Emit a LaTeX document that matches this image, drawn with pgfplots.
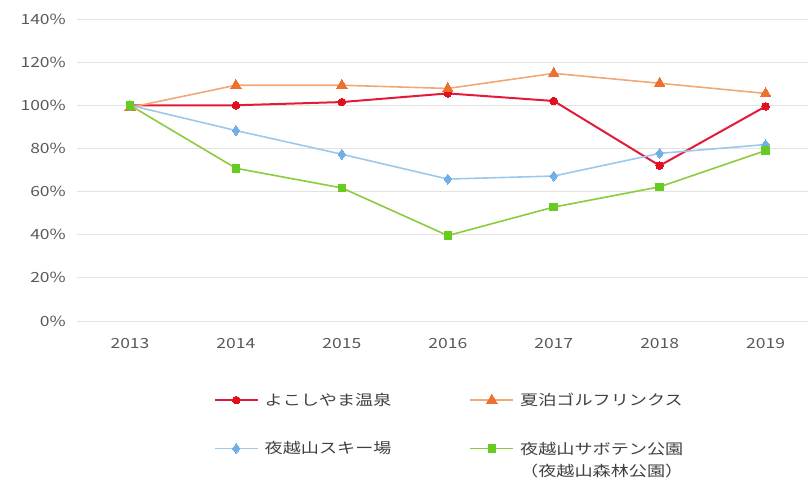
\documentclass[border=0pt]{standalone}
\usepackage{pgfplots}
\pgfplotsset{compat=1.18}
\usepackage{fontspec}
\setmainfont{Noto Sans CJK JP}[FakeStretch=1.25]
\definecolor{tickc}{HTML}{595959}
\definecolor{gridc}{HTML}{E3E3E3}
\definecolor{redl}{HTML}{E31B3A}
\definecolor{redm}{HTML}{E0101F}
\definecolor{orl}{HTML}{F2A874}
\definecolor{orm}{HTML}{ED7031}
\definecolor{bll}{HTML}{9CC8EC}
\definecolor{blm}{HTML}{6FAEE6}
\definecolor{grl}{HTML}{8CCB3E}
\definecolor{grm}{HTML}{66CC22}
\begin{document}
\begin{tikzpicture}
\path[use as bounding box] (-77pt,-158pt) rectangle (731pt,321pt);
\begin{axis}[
  scale only axis, width=731pt, height=302pt,
  xmin=-0.5, xmax=6.4, ymin=0, ymax=140,
  xtick={0,1,2,3,4,5,6},
  xticklabels={2013,2014,2015,2016,2017,2018,2019},
  ytick={0,20,40,60,80,100,120,140},
  yticklabel={\pgfmathprintnumber{\tick}\%},
  /pgf/number format/assume math mode=true,
  ymajorgrids, grid style={draw=gridc, line width=0.8pt},
  separate axis lines,
  axis x line*=bottom, axis y line*=left,
  y axis line style={draw=none},
  x axis line style={draw=gridc, line width=0.8pt, -},
  major tick length=0pt,
  tick label style={font=\fontsize{14}{16}\selectfont, text=tickc, inner sep=0pt},
  yticklabel style={xshift=-11pt},
  xticklabel style={yshift=-17pt},
  legend columns=2,
  legend cell align=left,
  legend style={draw=none, fill=none, at={(0.5,-0.225)}, anchor=north, xshift=7pt,
    font=\fontsize{14.5}{19}\selectfont, text=black!75,
    row sep=30pt,
    /tikz/every even column/.append style={column sep=76pt},
    /tikz/every odd column/.append style={column sep=4pt}},
  legend image code/.code={\draw[mark repeat=2,mark phase=2] plot coordinates {(0pt,0pt) (21.5pt,0pt) (43pt,0pt)};},
]
\addplot[redl, line width=2pt, mark=*, mark size=3.8pt, mark options={fill=redm, draw=redm, line width=0pt}]
  coordinates {(0,100) (1,100) (2,101.5) (3,105.5) (4,102) (5,72) (6,99.5)};
\addlegendentry{よこしやま温泉}
\addplot[orl, line width=1.6pt, mark=triangle*, mark size=6pt, mark options={fill=orm, draw=orm, line width=0pt}]
  coordinates {(0,99) (1,109.3) (2,109.3) (3,107.8) (4,114.8) (5,110.2) (6,105.5)};
\addlegendentry{夏泊ゴルフリンクス}
\addplot[bll, line width=1.6pt, mark=diamond*, mark size=5pt, mark options={fill=blm, draw=blm, line width=0pt}]
  coordinates {(0,100) (1,88.3) (2,77.3) (3,65.8) (4,67.2) (5,77.7) (6,81.8)};
\addlegendentry{夜越山スキー場}
\addplot[grl, line width=1.6pt, mark=square*, mark size=3.8pt, mark options={fill=grm, draw=grm, line width=0pt}]
  coordinates {(0,100) (1,70.8) (2,61.7) (3,39.6) (4,52.8) (5,62.2) (6,79)};
\addlegendentry{\begin{tabular}[t]{@{}l@{}}夜越山サボテン公園\\[3pt]（夜越山森林公園）\end{tabular}}
\end{axis}
\end{tikzpicture}
\end{document}
